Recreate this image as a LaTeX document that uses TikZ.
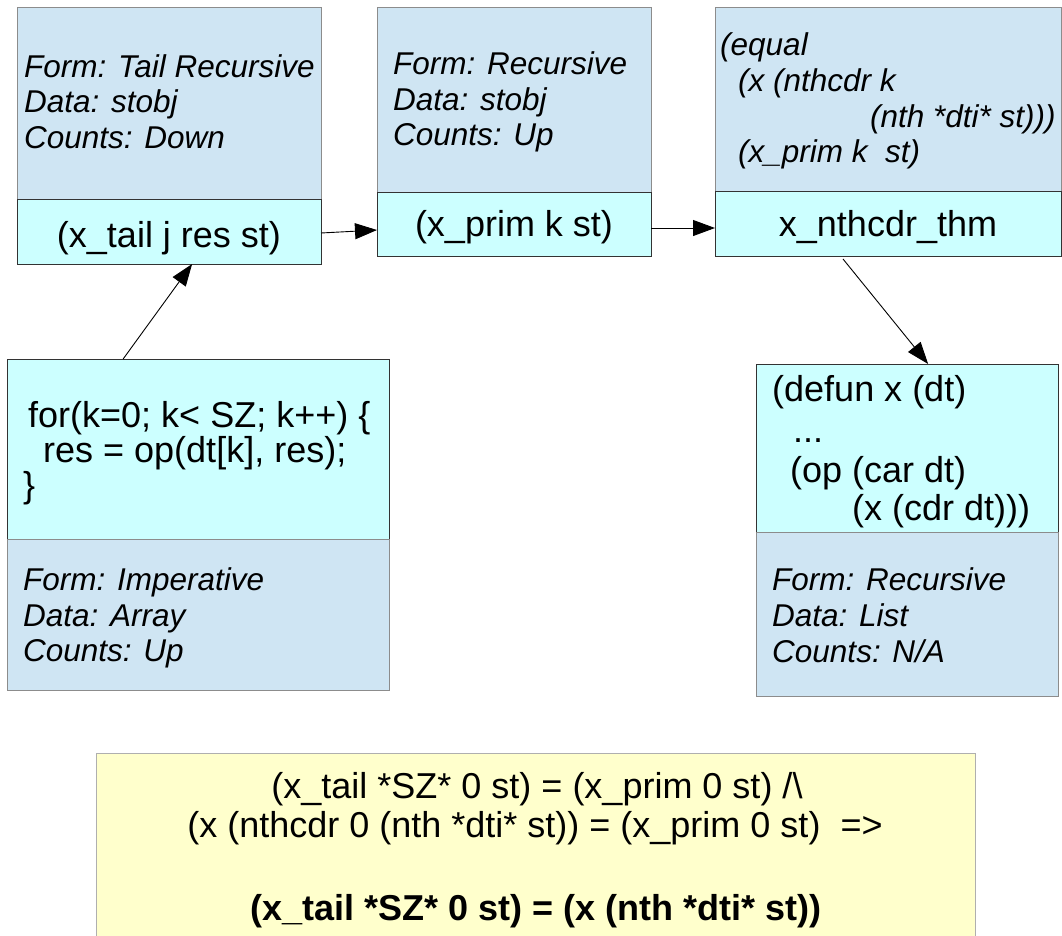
\documentclass[tikz,border=0pt]{standalone}
\usepackage{fontspec}
\setmainfont{Liberation Sans}
\usetikzlibrary{arrows.meta,calc}
\definecolor{paleblue}{HTML}{CFE5F3}
\definecolor{palecyan}{HTML}{CCFFFF}
\definecolor{paleyellow}{HTML}{FFFFCC}
\definecolor{bordergray}{HTML}{8C8C8C}
\definecolor{darkborder}{HTML}{333333}
\begin{document}
\begin{tikzpicture}[x=1pt,y=-1pt,
  boxbase/.style={line width=1pt, inner sep=0pt, outer sep=0pt, anchor=north west},
  bluebox/.style={boxbase, draw=bordergray, fill=paleblue},
  cyanbox/.style={boxbase, draw=darkborder, fill=palecyan},
  yellowbox/.style={boxbase, draw=bordergray!70, fill=paleyellow},
  meta/.style={font=\fontsize{31.5}{35}\selectfont\itshape, anchor=base west, inner sep=0pt},
  code/.style={font=\fontsize{36}{36}\selectfont, anchor=base west, inner sep=0pt},
  lbl/.style={font=\fontsize{36}{36}\selectfont, anchor=base, inner sep=0pt},
  sumline/.style={font=\fontsize{36}{36}\selectfont, anchor=base, inner sep=0pt},
  conn/.style={line width=0.9pt, -{Triangle[length=22pt,width=16pt]}}]
\useasboundingbox[fill=white] (0,0) rectangle (1062,935);

% Box A (top left)
\node[bluebox, minimum width=304, minimum height=192] (At) at (17,7) {};
\node[cyanbox, minimum width=304, minimum height=65] (Ab) at (17,199) {};
\node[meta] (a1) at (24,77) {Form: Tail Recursive};
\node[meta] (a2) at (24,112) {Data: stobj};
\node[meta] (a3) at (24,148) {Counts: Down};
\node[lbl] (al) at (169,247) {(x\_tail j res st)};

% Box B (top middle)
\node[bluebox, minimum width=274, minimum height=185] (Bt) at (377,7) {};
\node[cyanbox, minimum width=274, minimum height=64] (Bb) at (377,192) {};
\node[meta] (b1) at (393,74) {Form: Recursive};
\node[meta] (b2) at (393,110) {Data: stobj};
\node[meta] (b3) at (393,145) {Counts: Up};
\node[lbl] (bl) at (514,236) {(x\_prim k st)};

% Box C (top right)
\node[bluebox, minimum width=346, minimum height=184] (Ct) at (715,7) {};
\node[cyanbox, minimum width=346, minimum height=65] (Cb) at (715,191) {};
\node[meta] (c1) at (720,55) {(equal};
\node[meta] (c2) at (738,91) {(x (nthcdr k};
\node[meta] (c3) at (870,127) {(nth *dti* st)))};
\node[meta] (c4) at (738,162) {(x\_prim k\ \ st)};
\node[lbl] (cl) at (888,236) {x\_nthcdr\_thm};

% Box D (bottom left)
\node[cyanbox, minimum width=382, minimum height=180] (Dt) at (7,359) {};
\node[bluebox, minimum width=382, minimum height=151] (Db) at (7,539) {};
\node[code] (d1) at (28,427) {for(k=0; k< SZ; k++) \{};
\node[code] (d2) at (43,462) {res = op(dt[k], res);};
\node[code] (d3) at (23,497) {\}};
\node[meta] (d4) at (23,590) {Form: Imperative};
\node[meta] (d5) at (23,626) {Data: Array};
\node[meta] (d6) at (23,661) {Counts: Up};

% Box E (bottom right)
\node[cyanbox, minimum width=302, minimum height=168] (Et) at (756,364) {};
\node[bluebox, minimum width=302, minimum height=164] (Eb) at (756,532) {};
\node[code] (e1) at (772,401) {(defun x (dt)};
\node[code] (e2) at (793,442) {...};
\node[code] (e3) at (790,482) {(op (car dt)};
\node[code] (e4) at (852,520) {(x (cdr dt)))};
\node[meta] (e5) at (772,590) {Form: Recursive};
\node[meta] (e6) at (772,626) {Data: List};
\node[meta] (e7) at (772,662) {Counts: N/A};

% Summary box
\node[yellowbox, minimum width=879, minimum height=230] (S) at (96,753) {};
\node[sumline] (s1) at (537,798) {(x\_tail *SZ* 0 st) = (x\_prim 0 st) /\textbackslash};
\node[sumline] (s2) at (535,837) {(x (nthcdr 0 (nth *dti* st)) = (x\_prim 0 st)\ \ =>};
\node[sumline, font=\fontsize{36}{36}\selectfont\bfseries] (s3) at (536,920) {(x\_tail *SZ* 0 st) = (x (nth *dti* st))};

% Connectors
\draw[conn] ($(Dt.north west)!0.304!(Dt.north east)$) -- ($(Ab.south west)!0.576!(Ab.south east)$);
\draw[conn] ($(Ab.east)+(0,1.5)$) -- ($(Bb.south west)!0.406!(Bb.north west)$);
\draw[conn] ($(Bb.east)+(0,4)$) -- ($(Cb.west)+(0,4.5)$);
\draw[conn] ($(Cb.south west)!0.37!(Cb.south east)+(0,3)$) -- ($(Et.north west)!0.57!(Et.north east)$);
\end{tikzpicture}
\end{document}
